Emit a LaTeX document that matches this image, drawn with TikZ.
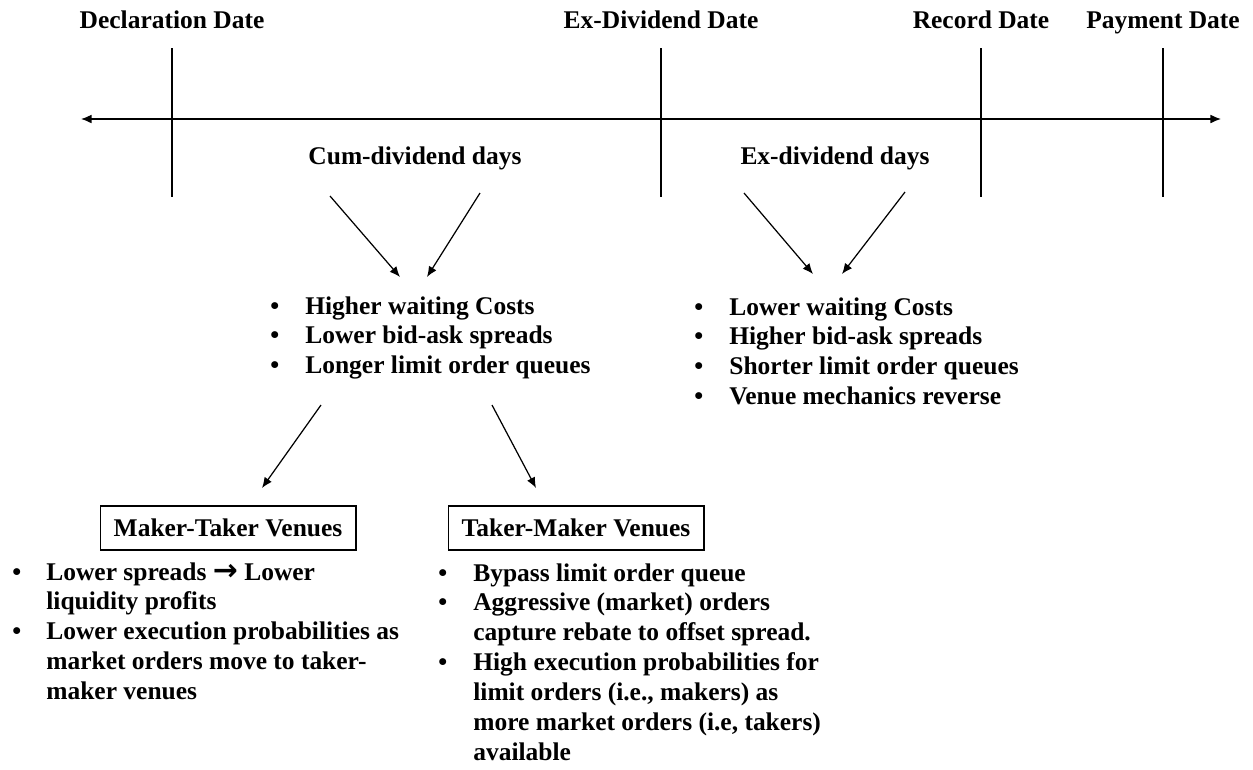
\documentclass[tikz,border=0pt]{standalone}
\usepackage{fontspec}
\setmainfont{Liberation Serif}
\newfontfamily\arrowfont{DejaVu Sans}
\usetikzlibrary{arrows.meta,positioning}

\tikzset{
	txt/.style={font=\bfseries\fontsize{14.5}{17}\selectfont, inner sep=0pt},
	bullets/.style={txt, anchor=base west},
	venue/.style={txt, draw, line width=0.6pt, minimum width=5.12cm, minimum height=0.88cm},
	tick/.style={line width=0.7pt},
	pointer/.style={line width=0.7pt, -{Latex[length=6pt,width=5pt]}}
}

\begin{document}
\begin{tikzpicture}[x=0.02cm,y=-0.02cm]
	\useasboundingbox (0,0) rectangle (1253,769);
	
	%timeline
	\coordinate (tl) at (81,119);
	\coordinate (tr) at (1221,119);
	\draw[tick, {Latex[length=6pt,width=5pt]}-{Latex[length=6pt,width=5pt]}] (tl) -- (tr);
	
	%dates
	\foreach \x/\nm/\lab in {172/decl/Declaration Date, 661/exdiv/Ex-Dividend Date, 981/rec/Record Date, 1163/pay/Payment Date}{
		\node[txt, anchor=base] (\nm) at (\x,28) {\lab};
		\draw[tick] (\x,48) -- (\x,197);
	}
	
	%periods
	\node[txt, anchor=base] (cum) at (415,164) {Cum-dividend days};
	\node[txt, anchor=base] (exd) at (835,164) {Ex-dividend days};
	
	%effects
	\node[bullets] (cumfx) at (270,314) {\begin{tabular}[t]{@{}p{0.7cm}@{}l@{}}
		\textbullet & Higher waiting Costs\\
		\textbullet & Lower bid-ask spreads\\
		\textbullet & Longer limit order queues
	\end{tabular}};
	\node[bullets] (exfx) at (694,315) {\begin{tabular}[t]{@{}p{0.7cm}@{}l@{}}
		\textbullet & Lower waiting Costs\\
		\textbullet & Higher bid-ask spreads\\
		\textbullet & Shorter limit order queues\\
		\textbullet & Venue mechanics reverse
	\end{tabular}};
	
	%venues
	\node[venue] (mt) at (228,528) {Maker-Taker Venues};
	\node[venue] (tm) at (576,528) {Taker-Maker Venues};
	
	\node[bullets] (mtfx) at (12,580) {\begin{tabular}[t]{@{}p{0.68cm}@{}l@{}}
		\textbullet & Lower spreads {\arrowfont\bfseries\fontsize{17}{17}\selectfont →} Lower\\
		& liquidity profits\\
		\textbullet & Lower execution probabilities as\\
		& market orders move to taker-\\
		& maker venues
	\end{tabular}};
	\node[bullets] (tmfx) at (438,581) {\begin{tabular}[t]{@{}p{0.7cm}@{}l@{}}
		\textbullet & Bypass limit order queue\\
		\textbullet & Aggressive (market) orders\\
		& capture rebate to offset spread.\\
		\textbullet & High execution probabilities for\\
		& limit orders (i.e., makers) as\\
		& more market orders (i.e, takers)\\
		& available
	\end{tabular}};
	
	%arrows
	\coordinate (c1) at (330,196);
	\coordinate (c2) at (480,193);
	\coordinate (c3) at (400,277);
	\coordinate (c4) at (427,277);
	\draw[pointer] (c1) -- (c3);
	\draw[pointer] (c2) -- (c4);
	%
	\coordinate (e1) at (744,193);
	\coordinate (e2) at (905,192);
	\coordinate (e3) at (813,274);
	\coordinate (e4) at (842,274);
	\draw[pointer] (e1) -- (e3);
	\draw[pointer] (e2) -- (e4);
	%
	\coordinate (v1) at (321,405);
	\coordinate (v2) at (492,405);
	\coordinate (v3) at (262,488);
	\coordinate (v4) at (536,488);
	\draw[pointer] (v1) -- (v3);
	\draw[pointer] (v2) -- (v4);
\end{tikzpicture}
\end{document}
